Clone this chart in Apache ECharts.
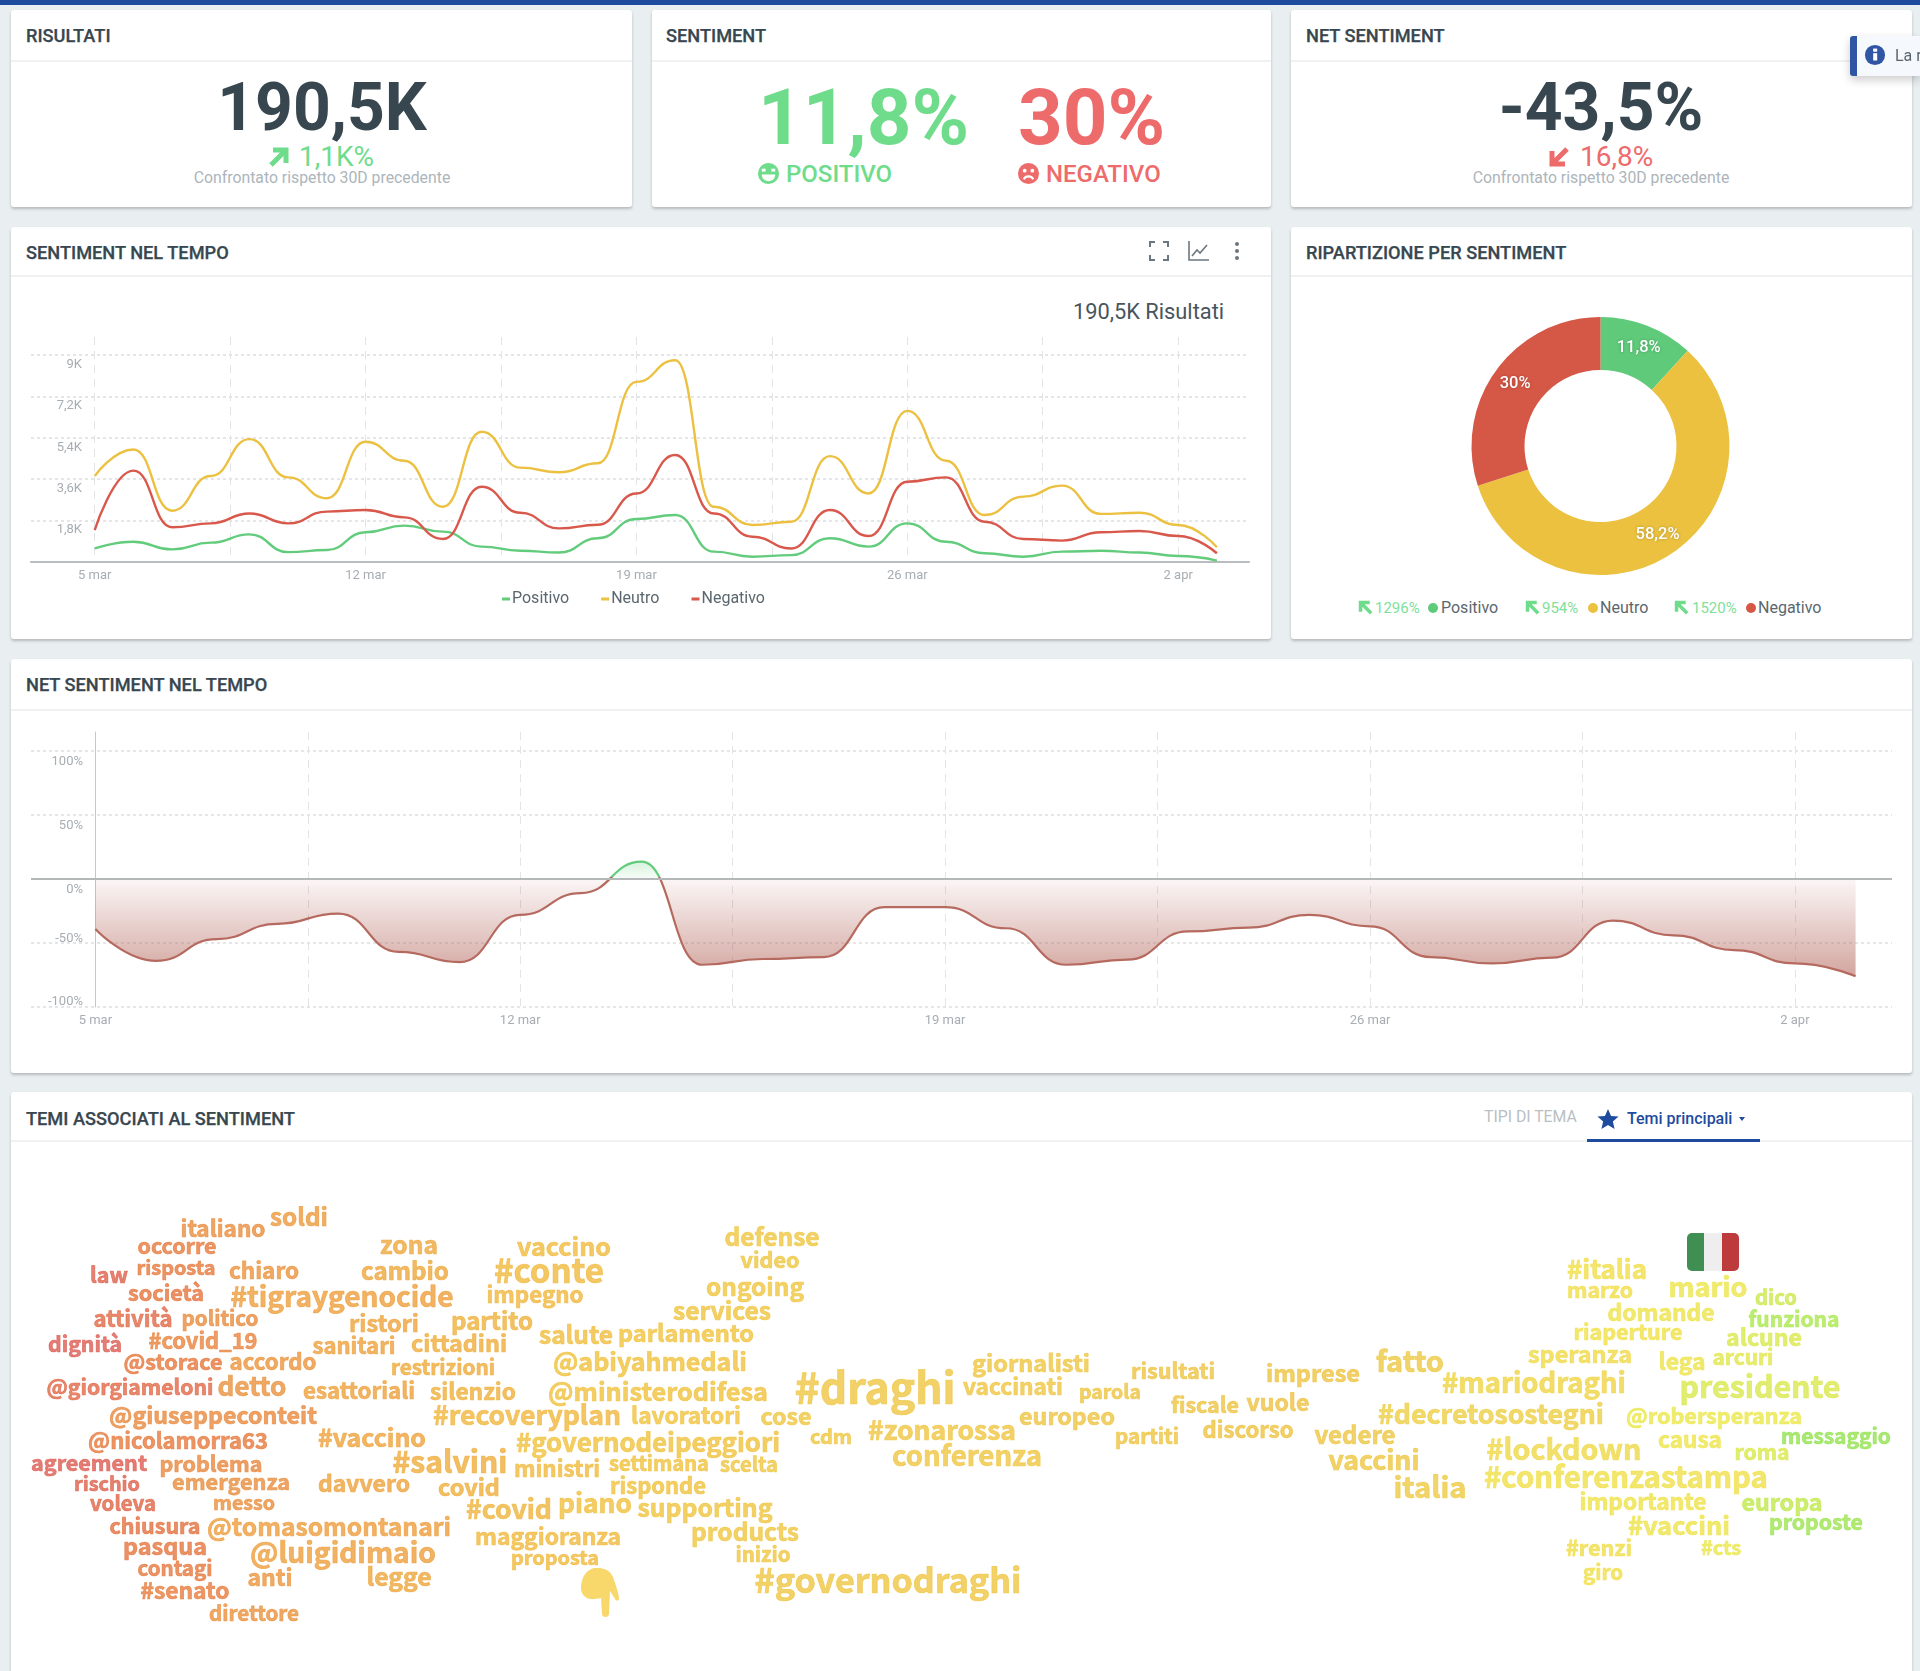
<!DOCTYPE html>
<html lang="it">
<head>
<meta charset="UTF-8">
<title>Sentiment</title>
<script src="https://cdn.jsdelivr.net/npm/echarts@6/dist/echarts.min.js"></script>
<style>
  html, body { margin: 0; padding: 0; }
  body { width: 1920px; height: 1671px; overflow: hidden; position: relative; background: #e9eef1; font-family: Roboto, sans-serif; color: #38474f; }
  #topbar { position: absolute; left: 0; top: 0; width: 1920px; height: 5px; background: #1f4b9f; }
  .card { position: absolute; background: #fff; border-radius: 3px; box-shadow: 0 2px 3px rgba(0,0,0,.22); }
  .head { position: absolute; left: 0; right: 0; border-bottom: 2px solid #eff1f3; }
  .t { position: absolute; white-space: nowrap; transform: translateY(-50%); line-height: 1; }
  .c { transform: translate(-50%, -50%); }
  .title { font-size: 18.2px; font-weight: 500; color: #38474f; -webkit-text-stroke: .25px #38474f; }
  .big { font-weight: 700; font-size: 66px; }
  .huge { font-weight: 700; font-size: 78px; }
  .cmp { font-size: 15.8px; color: #adb5bb; }
  .delta { font-size: 28px; }
  .green { color: #6fdc8c; }
  .red { color: #ee6b6b; }
  svg.i { position: absolute; }
  .dot { position: absolute; width: 10px; height: 10px; border-radius: 50%; }
  .lg { font-size: 16px; color: #5b676e; }
  .pct { font-size: 15px; color: #7fe09a; }
  #chart { position: absolute; left: 0; top: 0; width: 1920px; height: 1671px; }
  #toast { position: absolute; left: 1850px; top: 36px; width: 70px; height: 40px; background: #f5f8fc; border-left: 7px solid #2f55a4; border-radius: 3px 0 0 3px; box-shadow: 0 4px 10px rgba(0,0,0,.2); box-sizing: border-box; overflow: hidden; z-index: 5; }
  #flag { position: absolute; left: 1687px; top: 1233px; width: 52px; height: 38px; border-radius: 5px; overflow: hidden; display: flex; }
  #flag div { flex: 1; }
</style>
</head>
<body>
<svg width="0" height="0" style="position:absolute">
  <symbol id="arrow" viewBox="0 0 24 24"><path d="M4 20 L18 6 M6 5 H19 V18" fill="none" stroke="currentColor" stroke-width="5"/></symbol>
</svg>
<div id="topbar"></div>

<div class="card" style="left:11px;top:10px;width:621px;height:197px"><div class="head" style="top:0;height:50px"></div></div>
<div class="card" style="left:652px;top:10px;width:619px;height:197px"><div class="head" style="top:0;height:50px"></div></div>
<div class="card" style="left:1291px;top:10px;width:621px;height:197px"><div class="head" style="top:0;height:50px"></div></div>
<div class="card" style="left:11px;top:227px;width:1260px;height:412px"><div class="head" style="top:0;height:48px"></div></div>
<div class="card" style="left:1291px;top:227px;width:621px;height:412px"><div class="head" style="top:0;height:48px"></div></div>
<div class="card" style="left:11px;top:659px;width:1901px;height:414px"><div class="head" style="top:0;height:50px"></div></div>
<div class="card" style="left:11px;top:1092px;width:1901px;height:590px"><div class="head" style="top:0;height:48px"></div></div>

<div class="t title" style="left:26px;top:36px">RISULTATI</div>
<div class="t title" style="left:666px;top:36px">SENTIMENT</div>
<div class="t title" style="left:1306px;top:36px">NET SENTIMENT</div>
<div class="t title" style="left:26px;top:253px">SENTIMENT NEL TEMPO</div>
<div class="t title" style="left:1306px;top:253px">RIPARTIZIONE PER SENTIMENT</div>
<div class="t title" style="left:26px;top:685px">NET SENTIMENT NEL TEMPO</div>
<div class="t title" style="left:26px;top:1119px">TEMI ASSOCIATI AL SENTIMENT</div>

<div class="t c big" style="left:322px;top:108px">190,5K</div>
<svg class="i green" style="left:267px;top:145px" width="24" height="24"><use href="#arrow"/></svg>
<div class="t delta green" style="left:299px;top:157px">1,1K%</div>
<div class="t c cmp" style="left:322px;top:178px">Confrontato rispetto 30D precedente</div>

<div class="t huge green" style="left:758px;top:118px">11,8%</div>
<div class="t huge red" style="left:1018px;top:118px">30%</div>
<svg class="i green" style="left:757px;top:162px" width="23" height="23" viewBox="0 0 24 24"><circle cx="12" cy="12" r="11" fill="currentColor"/><rect x="5" y="7" width="4" height="3" fill="#fff"/><rect x="15" y="7" width="4" height="3" fill="#fff"/><path d="M5 13 H19 C19 18 15 20 12 20 C9 20 5 18 5 13 Z" fill="#fff"/></svg>
<div class="t green" style="left:786px;top:174px;font-size:24px;font-weight:500">POSITIVO</div>
<svg class="i red" style="left:1017px;top:162px" width="23" height="23" viewBox="0 0 24 24"><circle cx="12" cy="12" r="11" fill="currentColor"/><circle cx="8" cy="9" r="2" fill="#fff"/><circle cx="16" cy="9" r="2" fill="#fff"/><path d="M7 18 C9 14 15 14 17 18" fill="none" stroke="#fff" stroke-width="2.2"/></svg>
<div class="t red" style="left:1046px;top:174px;font-size:24px;font-weight:500">NEGATIVO</div>

<div class="t c big" style="left:1601px;top:108px">-43,5%</div>
<svg class="i red" style="left:1547px;top:145px;transform:rotate(180deg)" width="24" height="24"><use href="#arrow"/></svg>
<div class="t delta red" style="left:1580px;top:157px">16,8%</div>
<div class="t c cmp" style="left:1601px;top:178px">Confrontato rispetto 30D precedente</div>

<div id="toast">
  <svg style="position:absolute;left:7px;top:8px" width="22" height="22" viewBox="0 0 24 24"><circle cx="12" cy="12" r="11" fill="#2f55a4"/><rect x="10" y="10" width="4.4" height="8" fill="#fff"/><rect x="10" y="5" width="4.4" height="3.4" fill="#fff"/></svg>
  <div class="t" style="left:38px;top:20px;font-size:16px;color:#5b676e">La r</div>
</div>

<svg class="i" style="left:1149px;top:241px" width="20" height="20" viewBox="0 0 20 20" fill="none" stroke="#6b7780" stroke-width="2"><path d="M1 6 V1 H6 M14 1 H19 V6 M19 14 V19 H14 M6 19 H1 V14"/></svg>
<svg class="i" style="left:1188px;top:241px" width="21" height="20" viewBox="0 0 21 20" fill="none" stroke="#6b7780" stroke-width="1.6"><path d="M1 0 V19 H21 M4 15 L9 9 L12 12 L19 4"/></svg>
<svg class="i" style="left:1234px;top:241px" width="6" height="20" viewBox="0 0 6 20" fill="#6b7780"><circle cx="3" cy="3" r="2"/><circle cx="3" cy="10" r="2"/><circle cx="3" cy="17" r="2"/></svg>
<div class="t" style="left:1073px;top:312px;font-size:21.8px;color:#48555c">190,5K Risultati</div>

<svg class="i green" style="left:1357px;top:599px;transform:rotate(-90deg)" width="17" height="17"><use href="#arrow"/></svg>
<div class="t pct" style="left:1375px;top:608px">1296%</div>
<div class="dot" style="left:1428px;top:603px;background:#5fca7a"></div>
<div class="t lg" style="left:1441px;top:608px">Positivo</div>
<svg class="i green" style="left:1524px;top:599px;transform:rotate(-90deg)" width="17" height="17"><use href="#arrow"/></svg>
<div class="t pct" style="left:1542px;top:608px">954%</div>
<div class="dot" style="left:1588px;top:603px;background:#ebc13f"></div>
<div class="t lg" style="left:1600px;top:608px">Neutro</div>
<svg class="i green" style="left:1673px;top:599px;transform:rotate(-90deg)" width="17" height="17"><use href="#arrow"/></svg>
<div class="t pct" style="left:1692px;top:608px">1520%</div>
<div class="dot" style="left:1746px;top:603px;background:#d55746"></div>
<div class="t lg" style="left:1758px;top:608px">Negativo</div>

<div class="t" style="left:1484px;top:1117px;font-size:15.8px;color:#b9bfc4">TIPI DI TEMA</div>
<svg class="i" style="left:1597px;top:1108px" width="22" height="22" viewBox="0 0 24 24" fill="#1f4b9f"><path d="M12 1 L15.3 8.6 L23.5 9.3 L17.3 14.7 L19.2 22.8 L12 18.5 L4.8 22.8 L6.7 14.7 L.5 9.3 L8.7 8.6 Z"/></svg>
<div class="t" style="left:1627px;top:1119px;font-size:16px;font-weight:500;color:#1f4b9f">Temi principali</div>
<svg class="i" style="left:1739px;top:1117px" width="6" height="4" fill="#1f4b9f"><path d="M0 0 H6 L3 4 Z"/></svg>
<div style="position:absolute;left:1587px;top:1139px;width:173px;height:3px;background:#1f4b9f"></div>

<div id="flag"><div style="background:#408f52"></div><div style="background:#eeeeee"></div><div style="background:#bd3a3d"></div></div>
<svg class="i" style="left:580px;top:1568px" width="40" height="50" viewBox="0 0 40 50" fill="#f8d76b"><path d="M14 0 C24 -1 32 3 34 12 C36 18 39 26 39 31 C39 33 36 33 35 31 L30 23 L29 46 C29 50 22 50 22 46 L21 30 C16 31 10 32 7 30 C5 29 1 26 1 20 C1 10 6 2 14 0 Z"/></svg>

<div id="chart"></div>

<script>
  // giorni dal 5 marzo
  const days = [0,1,2,3,4,5,6,7,8,9,10,11,12,13,14,15,16,17,18,19,20,21,22,23,24,25,26,27,28,29];
  const gridDays = [0,3.5,7,10.5,14,17.5,21,24.5,28];
  const labelDays = [0,7,14,21,28];
  const labelNames = ['5 mar','12 mar','19 mar','26 mar','2 apr'];

  const positivo = [590,880,550,840,1200,430,520,1290,1580,1320,670,490,410,1030,1870,2040,450,230,300,1030,670,1680,880,380,230,450,490,410,260,60];
  const neutro = [3740,4890,2230,3740,5340,3680,2770,5230,4400,2400,5660,4100,3900,4290,7830,8770,2400,1610,1750,4600,2980,6570,4400,2040,2840,3320,2090,2140,1610,640];
  const negativo = [1390,3970,1510,1680,2110,1680,2190,2260,1940,1000,3270,2140,1460,1620,2980,4650,2110,1100,590,2260,1130,3490,3680,1750,1000,930,1290,1350,1130,380];
  const netSentiment = [-39,-64,-47,-35,-27,-57,-65,-28,-11,13.5,-67,-62.5,-61,-22,-22,-38.5,-67,-63,-41,-38,-28,-37,-61,-66,-61.5,-32.5,-44,-55.5,-66,-76];

  const shareNames = ['Positivo','Neutro','Negativo'];
  const shareValues = [11.8,58.2,30];

  // parola, x, y, larghezza
  const words = [
    ['italiano',223,1228,85],['soldi',299,1217,58],['occorre',177,1246,79],['zona',409,1245,58],['vaccino',564,1246,94],
    ['law',109,1275,38],['risposta',176,1267,79],['chiaro',264,1270,70],['cambio',405,1271,88],['#conte',549,1270,110],
    ['società',166,1293,76],['#tigraygenocide',342,1296,223],['impegno',535,1295,97],['attività',133,1319,79],['politico',220,1318,77],
    ['ristori',384,1323,70],['partito',492,1321,82],['salute',576,1335,74],['dignità',85,1344,74],['#covid_19',203,1341,109],
    ['sanitari',354,1346,83],['cittadini',459,1343,96],['@storace',173,1362,99],['accordo',273,1362,87],['restrizioni',443,1367,104],
    ['@abiyahmedali',650,1361,194],['@giorgiameloni',130,1387,167],['detto',252,1386,69],['esattoriali',359,1391,112],['silenzio',473,1391,86],
    ['@ministerodifesa',658,1391,220],['@giuseppeconteit',213,1415,208],['#recoveryplan',527,1415,188],['lavoratori',686,1415,110],['cose',786,1416,51],
    ['#vaccino',372,1438,108],['@nicolamorra63',178,1441,180],['#governodeipeggiori',648,1442,264],['cdm',831,1436,42],['#zonarossa',942,1430,148],
    ['#salvini',450,1462,115],['agreement',89,1463,116],['problema',211,1464,103],['ministri',557,1469,86],['settimana',659,1463,100],
    ['scelta',749,1464,58],['conferenza',967,1456,150],['rischio',107,1483,66],['emergenza',231,1482,118],['davvero',364,1483,92],
    ['covid',469,1487,62],['risponde',658,1486,96],['voleva',123,1503,66],['messo',244,1503,62],['#covid',509,1509,86],
    ['piano',595,1503,74],['supporting',705,1508,135],['chiusura',155,1526,91],['@tomasomontanari',329,1527,244],['maggioranza',548,1536,146],
    ['products',745,1532,108],['pasqua',165,1546,84],['@luigidimaio',343,1552,186],['proposta',555,1557,88],['inizio',763,1554,55],
    ['contagi',175,1568,75],['anti',270,1577,45],['legge',399,1577,65],['#governodraghi',888,1580,267],['#senato',185,1590,89],
    ['direttore',254,1613,90],['defense',772,1237,95],['video',770,1260,59],['ongoing',755,1287,98],['services',722,1311,98],
    ['parlamento',686,1333,136],['#draghi',875,1388,161],['giornalisti',1031,1363,118],['vaccinati',1013,1386,100],['risultati',1173,1371,84],
    ['parola',1110,1392,62],['fiscale',1205,1405,68],['europeo',1067,1416,96],['partiti',1147,1436,64],['imprese',1313,1373,94],
    ['vuole',1278,1402,63],['discorso',1248,1430,91],['#italia',1607,1269,80],['marzo',1600,1290,66],['mario',1708,1287,79],
    ['dico',1776,1297,42],['domande',1661,1312,107],['funziona',1794,1319,91],['riaperture',1628,1332,109],['alcune',1764,1337,76],
    ['speranza',1580,1354,104],['lega',1682,1361,47],['arcuri',1743,1357,61],['fatto',1410,1361,68],['#mariodraghi',1534,1383,184],
    ['presidente',1760,1386,161],['#decretosostegni',1491,1414,226],['@robersperanza',1714,1416,176],['vedere',1355,1435,81],['vaccini',1374,1460,91],
    ['#lockdown',1564,1449,155],['causa',1690,1439,64],['roma',1762,1452,55],['messaggio',1836,1436,110],['#conferenzastampa',1626,1477,284],
    ['italia',1430,1487,73],['importante',1643,1501,127],['europa',1782,1502,81],['#vaccini',1679,1525,102],['proposte',1816,1522,94],
    ['#renzi',1599,1548,66],['#cts',1721,1547,40],['giro',1603,1572,40]
  ];

  // colore delle parole da sinistra (negativo) a destra (positivo)
  const toneStops = [[0,'#d9534f'],[50,'#d9565c'],[100,'#dd5f50'],[160,'#e5733f'],[220,'#e98c3f'],[300,'#ec9a3e'],[450,'#efac3c'],[600,'#f0c03e'],[800,'#efc742'],[1300,'#eec243'],[1500,'#eecf45'],[1620,'#f0e04a'],[1720,'#ebe74c'],[1770,'#d6e84c'],[1785,'#bce84f'],[1800,'#a2e650'],[1850,'#8ee152']];
  function toneColor(x) {
    for (let i = 1; i < toneStops.length; i++) {
      if (x <= toneStops[i][0]) {
        const a = toneStops[i - 1], b = toneStops[i];
        return echarts.color.lerp((x - a[0]) / (b[0] - a[0]), [a[1], b[1]]);
      }
    }
    return toneStops[toneStops.length - 1][1];
  }

  const WORD_FONT = '"Noto Sans CJK SC", "Noto Sans", sans-serif';
  const ctx = document.createElement('canvas').getContext('2d');
  ctx.font = '700 100px ' + WORD_FONT;
  const wordData = words.map(w => {
    const color = toneColor(w[1]);
    return {
      name: w[0],
      value: [w[1], w[2]],
      label: {
        fontSize: w[3] * 100 / ctx.measureText(w[0]).width, color, fontWeight: 700,
        textBorderColor: color, textBorderWidth: 0.7
      }
    };
  });

  const AXIS_TEXT = '#a7adb2';
  const dayLabel = v => labelNames[labelDays.indexOf(v)] || '';

  function dayAxis(gridIndex, min, max, extra) {
    return Object.assign({
      type: 'value', gridIndex, min, max,
      axisLine: { show: false },
      axisTick: { show: false, customValues: gridDays },
      axisLabel: { customValues: labelDays, formatter: dayLabel, color: AXIS_TEXT, fontSize: 13, fontFamily: 'Roboto', margin: 7 },
      splitLine: { show: true, lineStyle: { color: '#e2e4e6', type: [8, 6], width: 1 } }
    }, extra);
  }

  function lineSeries(name, data, color) {
    return {
      name, type: 'line', xAxisIndex: 0, yAxisIndex: 0, smooth: 0.5, smoothMonotone: 'x', showSymbol: false, silent: true,
      data: data.map((v, i) => [days[i], v]),
      lineStyle: { color, width: 2.4 }, itemStyle: { color }
    };
  }

  // punto in cui la curva passa per lo zero, per il cambio di colore
  const zeroStop = Math.max(...netSentiment) / (Math.max(...netSentiment) - Math.min(...netSentiment));

  const chart = echarts.init(document.getElementById('chart'));
  chart.setOption({
    animation: false,
    legend: {
      data: shareNames, left: 497, top: 586, itemWidth: 8, itemHeight: 3, itemGap: 32, icon: 'rect',
      textStyle: { color: '#5b676e', fontSize: 16, fontFamily: 'Roboto', padding: [0, 0, 0, -3] }
    },
    grid: [
      { left: 31, top: 337, width: 1218, height: 225, outerBoundsMode: 'none' },
      { left: 31, top: 732, width: 1861, height: 275, outerBoundsMode: 'none' },
      { left: 0, top: 0, width: 1920, height: 1671, outerBoundsMode: 'none' }
    ],
    xAxis: [
      dayAxis(0, -1.646, 29.83, { axisLine: { show: true, onZero: false, lineStyle: { color: '#b9bdc0', width: 2 } } }),
      dayAxis(1, -1.06, 29.6),
      { type: 'value', gridIndex: 2, min: 0, max: 1920, show: false }
    ],
    yAxis: [
      {
        type: 'value', gridIndex: 0, min: 0, max: 9780, interval: 1800,
        axisLine: { show: false },
        axisTick: { show: false },
        axisLabel: {
          inside: true, align: 'right', margin: 51,
          color: AXIS_TEXT, fontSize: 13, fontFamily: 'Roboto', verticalAlign: 'top', padding: [3, 0, 0, 0],
          showMinLabel: false, showMaxLabel: false,
          formatter: v => String(v / 1000).replace('.', ',') + 'K'
        },
        splitLine: { showMinLine: false, showMaxLine: false, lineStyle: { color: '#dcdee0', type: [3, 3], width: 1.5 } }
      },
      {
        type: 'value', gridIndex: 1, min: -100, max: 114.8, interval: 50,
        axisLine: { show: true, onZero: true, lineStyle: { color: '#c4c8cb', width: 1 } },
        axisTick: { show: false },
        axisLabel: {
          inside: true, align: 'right', margin: 52,
          color: AXIS_TEXT, fontSize: 13, fontFamily: 'Roboto', verticalAlign: 'middle',
          showMaxLabel: false,
          // le etichette negative stanno sopra la griglia, le altre sotto
          formatter: v => {
            if (v === -100) return '{far|' + v + '%}';
            if (v === -50) return '{near|' + v + '%}';
            return '{under|' + v + '%}';
          },
          rich: {
            under: { padding: [21, 0, 0, 0], color: AXIS_TEXT, fontSize: 13, fontFamily: 'Roboto' },
            near: { padding: [0, 0, 8, 0], color: AXIS_TEXT, fontSize: 13, fontFamily: 'Roboto' },
            far: { padding: [0, 0, 11, 0], color: AXIS_TEXT, fontSize: 13, fontFamily: 'Roboto' }
          }
        },
        splitLine: { showMaxLine: false, lineStyle: { color: '#dcdee0', type: [3, 3], width: 1.5 } }
      },
      { type: 'value', gridIndex: 2, min: 0, max: 1671, inverse: true, show: false }
    ],
    series: [
      lineSeries('Positivo', positivo, '#62cc7c'),
      lineSeries('Neutro', neutro, '#ecc040'),
      lineSeries('Negativo', negativo, '#d9584c'),
      {
        type: 'pie', center: [1600.5, 446], radius: [76, 129], silent: true, startAngle: 90,
        data: shareNames.map((name, i) => ({ name, value: shareValues[i] })),
        color: ['#5fca7a', '#ebc13f', '#d55746'],
        label: {
          position: 'inside', color: '#fff', fontSize: 16.5, fontWeight: 500, fontFamily: 'Roboto',
          textShadowColor: 'rgba(0,0,0,.25)', textShadowBlur: 3,
          formatter: p => String(shareValues[p.dataIndex]).replace('.', ',') + '%'
        },
        labelLine: { show: false }
      },
      {
        type: 'line', xAxisIndex: 1, yAxisIndex: 1, smooth: 0.5, smoothMonotone: 'x', showSymbol: false, silent: true,
        data: netSentiment.map((v, i) => [days[i], v]),
        lineStyle: {
          width: 2.2,
          color: new echarts.graphic.LinearGradient(0, 0, 0, 1, [
            { offset: 0, color: '#62cc7c' },
            { offset: zeroStop, color: '#62cc7c' },
            { offset: zeroStop, color: '#b5695f' },
            { offset: 1, color: '#b5695f' }
          ])
        },
        areaStyle: {
          color: new echarts.graphic.LinearGradient(0, 0, 0, 1, [
            { offset: 0, color: 'rgba(98,204,124,.25)' },
            { offset: zeroStop, color: 'rgba(98,204,124,.05)' },
            { offset: zeroStop, color: 'rgba(181,105,95,.06)' },
            { offset: 1, color: 'rgba(181,105,95,.6)' }
          ]),
          opacity: 1
        },
        markLine: {
          silent: true, symbol: 'none', label: { show: false },
          data: [{ yAxis: 0 }], lineStyle: { color: '#b4b8b8', type: 'solid', width: 2 }
        }
      },
      {
        type: 'scatter', xAxisIndex: 2, yAxisIndex: 2, symbolSize: 1, silent: true,
        itemStyle: { color: 'transparent' },
        data: wordData,
        label: {
          show: true, position: 'inside', align: 'center', verticalAlign: 'middle',
          fontFamily: WORD_FONT, fontWeight: 700, formatter: p => p.name
        }
      }
    ]
  });
</script>
</body>
</html>
